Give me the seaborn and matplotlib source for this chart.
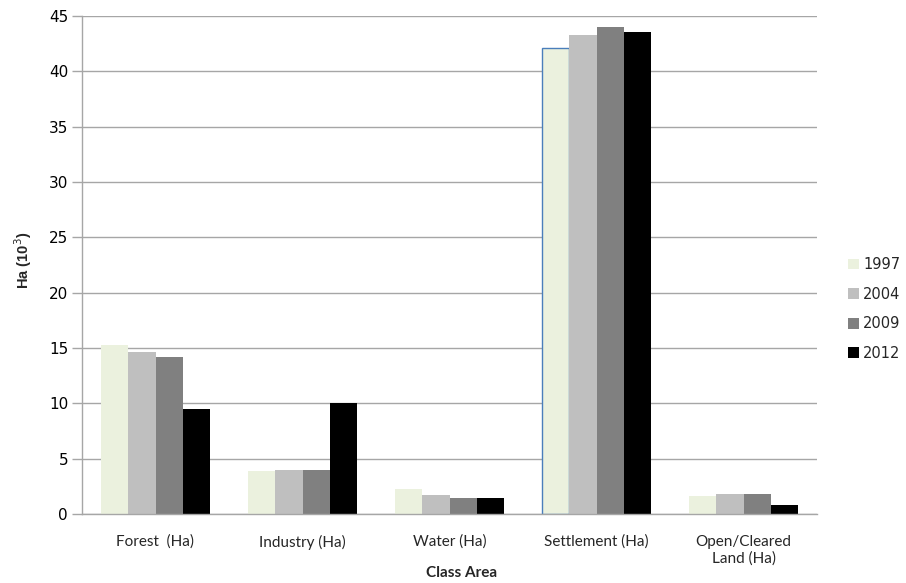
import matplotlib
matplotlib.use("Agg")
import matplotlib.pyplot as plt
import seaborn as sns
import pandas as pd

# Land-cover class areas (thousand hectares) per survey year
categories = ["Forest  (Ha)", "Industry (Ha)", "Water (Ha)", "Settlement (Ha)", "Open/Cleared\nLand (Ha)"]
years = ["1997", "2004", "2009", "2012"]
area_1997 = [15.3, 3.9, 2.3, 42.15, 1.65]
area_2004 = [14.6, 4.0, 1.7, 43.25, 1.8]
area_2009 = [14.2, 4.0, 1.45, 44.0, 1.8]
area_2012 = [9.5, 10.0, 1.45, 43.55, 0.8]
colors = ["#EBF1DE", "#BFBFBF", "#808080", "#000000"]
y_ticks = [0, 5, 10, 15, 20, 25, 30, 35, 40, 45]

series = [area_1997, area_2004, area_2009, area_2012]
df = pd.DataFrame(
    [(c, y, v) for y, vals in zip(years, series) for c, v in zip(categories, vals)],
    columns=["Class", "Year", "Area"],
)

sns.set_theme(style="white")
plt.rcParams["font.family"] = ["DejaVu Sans"]

fig = plt.figure(figsize=(9.06, 5.83), dpi=100)
ax = fig.add_axes([82 / 906, 69 / 583, (817 - 82) / 906, (514 - 16) / 583])

sns.barplot(
    data=df, x="Class", y="Area", hue="Year", order=categories, hue_order=years,
    palette=colors, width=0.735, saturation=1, linewidth=0, ax=ax, legend=True,
)

# highlighted outline on the 1997 settlement bar
bar = ax.containers[0][3]
bar.set_edgecolor("#4A7EBB")
bar.set_linewidth(1.0)

ax.set_ylim(0, 45)
ax.set_yticks(y_ticks)
ax.set_xlim(-0.5, len(categories) - 0.5)
ax.yaxis.grid(True, color="#A6A6A6", linewidth=1.0)
ax.set_axisbelow(True)

for side in ["top", "right"]:
    ax.spines[side].set_visible(False)
for side in ["left", "bottom"]:
    ax.spines[side].set_color("#A6A6A6")
    ax.spines[side].set_linewidth(1.0)

ax.tick_params(axis="y", which="major", left=True, length=7, width=1.0,
               color="#A6A6A6", labelsize=11, pad=3, labelcolor="#000000")
ax.tick_params(axis="x", bottom=False, pad=9)
for lbl in ax.get_yticklabels():
    lbl.set_family(["DejaVu Sans"])
for lbl in ax.get_xticklabels():
    lbl.set_family(["Lato", "DejaVu Sans"])
    lbl.set_fontsize(11)
    lbl.set_linespacing(1.25)

ax.set_xlabel("Class Area", fontsize=11, fontweight="bold",
              family=["Lato", "DejaVu Sans"])
ax.set_ylabel("Ha (10$^3$)", fontsize=10.5, fontweight="bold",
              family=["Liberation Sans Narrow", "Liberation Sans", "DejaVu Sans"])
ax.xaxis.set_label_coords((462 - 82) / (817 - 82), -0.105)
ax.yaxis.set_label_coords((34 - 82) / (817 - 82), (514 - 260) / (514 - 16))

leg = ax.legend(
    loc="center left", bbox_to_anchor=((848 - 82) / (817 - 82), (514 - 309) / (514 - 16)),
    frameon=False, borderpad=0, borderaxespad=0,
    handlelength=0.75, handleheight=0.75, handletextpad=0.3, labelspacing=1.0,
    fontsize=10.5,
)
for t in leg.get_texts():
    t.set_family(["DejaVu Sans"])

fig.savefig("out.png", dpi=100, facecolor="white")
